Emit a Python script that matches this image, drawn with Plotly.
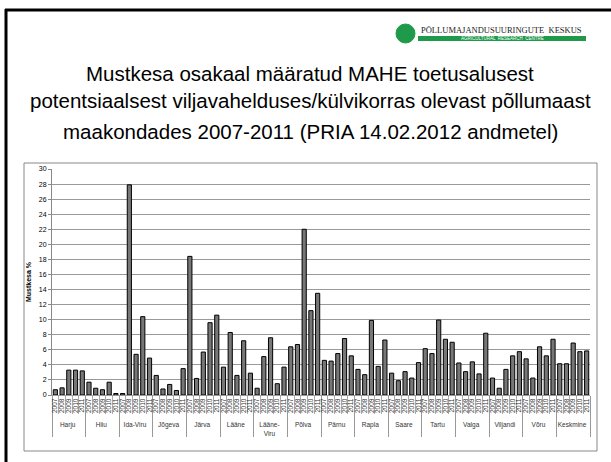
import plotly.graph_objects as go

counties = ['Harju', 'Hiiu', 'Ida-Viru', 'Jõgeva', 'Järva', 'Lääne', 'Lääne-<br>Viru',
            'Põlva', 'Pärnu', 'Rapla', 'Saare', 'Tartu', 'Valga', 'Viljandi', 'Võru', 'Keskmine']
years = ['2007', '2008', '2009', '2010', '2011']

# Mustkesa osakaal %, 5 aastat iga maakonna kohta
values = [
    [0.7, 0.95, 3.3, 3.3, 3.2],     # Harju
    [1.7, 0.9, 0.7, 1.7, 0.2],      # Hiiu
    [0.2, 27.9, 5.4, 10.4, 4.9],    # Ida-Viru
    [2.6, 0.8, 1.4, 0.6, 3.5],      # Jõgeva
    [18.4, 2.2, 5.7, 9.6, 10.6],    # Järva
    [3.7, 8.3, 2.6, 7.2, 2.9],      # Lääne
    [0.9, 5.1, 7.6, 1.5, 3.7],      # Lääne-Viru
    [6.4, 6.7, 22.0, 11.2, 13.5],   # Põlva
    [4.6, 4.5, 5.5, 7.5, 5.2],      # Pärnu
    [3.4, 2.7, 9.9, 3.8, 7.3],      # Rapla
    [2.9, 1.9, 3.1, 2.25, 4.3],     # Saare
    [6.15, 5.5, 9.95, 7.4, 7.0],    # Tartu
    [4.25, 3.1, 4.4, 2.8, 8.2],     # Valga
    [2.25, 0.9, 3.4, 5.2, 5.75],    # Viljandi
    [4.8, 2.25, 6.4, 5.2, 7.4],     # Võru
    [4.15, 4.15, 6.9, 5.75, 5.85],  # Keskmine
]

x_groups = []
x_years = []
y_vals = []
for county, row in zip(counties, values):
    for year, v in zip(years, row):
        x_groups.append(county)
        x_years.append(year)
        y_vals.append(v)

fig = go.Figure(go.Bar(
    x=[x_groups, x_years],
    y=y_vals,
    marker=dict(color='#777777', line=dict(color='#000000', width=1)),
    width=0.62,
))

W, H = 611, 462
ML, MR, MT, MB = 52, 21, 169, 67
fig.update_layout(
    width=W, height=H,
    margin=dict(l=ML, r=MR, t=MT, b=MB),
    paper_bgcolor='white', plot_bgcolor='white',
    font=dict(family='Liberation Sans, Arial', color='#000000'),
    showlegend=False,
)
fig.update_xaxes(
    type='multicategory', automargin=False,
    tickmode='linear', dtick=1,
    tickangle=-90, tickfont=dict(size=6.5, color='#333333'),
    tickson='boundaries', ticks='outside', ticklen=18, tickcolor='#aaaaaa',
    showdividers=True, dividercolor='#999999', dividerwidth=1,
    showline=True, linecolor='#999999', linewidth=1,
    showgrid=False,
)
fig.update_yaxes(
    range=[0, 30], dtick=2, automargin=False,
    tickfont=dict(size=7), ticks='outside', ticklen=3, tickcolor='#888888',
    showgrid=True, gridcolor='#999999', gridwidth=1,
    showline=True, linecolor='#888888', linewidth=1,
    zeroline=False,
    title=dict(text='<b>Mustkesa %</b>', font=dict(size=7), standoff=6),
)


def px(x):
    return (x - ML) / (W - ML - MR)


def py(y):
    return (H - MB - y) / (H - MT - MB)


# slide frame (left and top edges)
fig.add_shape(type='line', xref='paper', yref='paper', x0=px(6), x1=px(6), y0=py(9), y1=py(470),
              line=dict(color='black', width=3))
fig.add_shape(type='line', xref='paper', yref='paper', x0=px(5), x1=px(620), y0=py(10), y1=py(10),
              line=dict(color='black', width=3))
# chart frame
fig.add_shape(type='rect', xref='paper', yref='paper', x0=px(24), x1=px(597), y0=py(451), y1=py(163),
              line=dict(color='#888888', width=1), layer='below')

# logo
fig.add_shape(type='circle', xref='paper', yref='paper', x0=px(396), x1=px(415), y0=py(43), y1=py(24),
              fillcolor='#1e9a4a', line=dict(color='#1e9a4a', width=1))
fig.add_shape(type='rect', xref='paper', yref='paper', x0=px(418), x1=px(586), y0=py(41), y1=py(36),
              fillcolor='#1e9a4a', line=dict(width=0))
fig.add_annotation(xref='paper', yref='paper', x=px(419), y=py(30), text='PÕLLUMAJANDUSUURINGUTE  KESKUS',
                   showarrow=False, xanchor='left', yanchor='middle',
                   font=dict(family='Liberation Serif, Times New Roman', size=8.5, color='#222222'))
fig.add_annotation(xref='paper', yref='paper', x=px(502), y=py(38.6), text='AGRICULTURAL  RESEARCH  CENTRE',
                   showarrow=False, xanchor='center', yanchor='middle',
                   font=dict(family='Liberation Sans, Arial', size=4.5, color='white'))

# title lines
title_lines = [
    ('Mustkesa osakaal määratud MAHE toetusalusest', 73),
    ('potentsiaalsest viljavahelduses/külvikorras olevast põllumaast', 100),
    ('maakondades 2007-2011 (PRIA 14.02.2012 andmetel)', 131),
]
for text, yy in title_lines:
    fig.add_annotation(xref='paper', yref='paper', x=px(310), y=py(yy), text=text,
                       showarrow=False, xanchor='center', yanchor='middle',
                       font=dict(size=20.5, color='#000000'))

# page body has a default margin; drop it so the figure sits at the window corner
fig.write_html("out.html", config={'displayModeBar': False},
               post_script="document.body.style.margin='0';")
